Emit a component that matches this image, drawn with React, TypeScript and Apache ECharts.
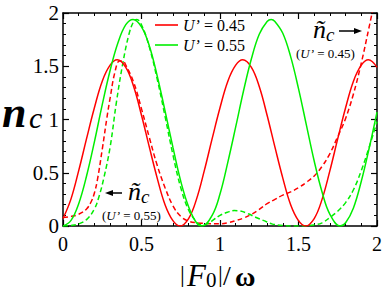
import React, { useEffect, useRef } from "react";
import * as echarts from "echarts";

// U' = 0.45, n_c (solid red)
const nc045: [number, number][] = [
  [0, 0.07], [0.05, 0.25], [0.1, 0.52], [0.15, 0.82], [0.2, 1.11], [0.25, 1.36], [0.3, 1.51], [0.345, 1.56],
  [0.4, 1.49], [0.45, 1.31], [0.5, 1.04], [0.55, 0.74], [0.6, 0.45], [0.65, 0.2], [0.7, 0.05], [0.745, 0],
  [0.8, 0.07], [0.85, 0.25], [0.9, 0.52], [0.95, 0.82], [1, 1.11], [1.05, 1.36], [1.1, 1.51], [1.145, 1.56],
  [1.2, 1.49], [1.25, 1.31], [1.3, 1.04], [1.35, 0.74], [1.4, 0.45], [1.45, 0.2], [1.5, 0.05], [1.545, 0],
  [1.6, 0.07], [1.65, 0.25], [1.7, 0.52], [1.75, 0.82], [1.8, 1.11], [1.85, 1.36], [1.9, 1.51], [1.945, 1.56],
  [2, 1.49],
];

// U' = 0.55, n_c (solid green)
const nc055: [number, number][] = [
  [0, 0], [0.05, 0.05], [0.1, 0.21], [0.15, 0.47], [0.2, 0.79], [0.25, 1.14], [0.3, 1.46], [0.35, 1.72],
  [0.4, 1.89], [0.446, 1.94], [0.5, 1.87], [0.55, 1.69], [0.6, 1.41], [0.65, 1.08], [0.7, 0.74], [0.75, 0.42],
  [0.8, 0.18], [0.85, 0.03], [0.886, 0], [0.95, 0.1], [1, 0.3], [1.05, 0.6], [1.1, 0.93], [1.15, 1.27],
  [1.2, 1.57], [1.25, 1.8], [1.3, 1.92], [1.326, 1.94], [1.35, 1.92], [1.4, 1.81], [1.45, 1.59], [1.5, 1.29],
  [1.55, 0.95], [1.6, 0.61], [1.65, 0.32], [1.7, 0.11], [1.766, 0], [1.8, 0.03], [1.85, 0.17], [1.9, 0.42],
  [1.95, 0.73], [2, 1.07],
];

// U' = 0.45, tilde n_c (dashed red)
const nct045: [number, number][] = [
  [0, 0.08], [0.05, 0.09], [0.1, 0.11], [0.15, 0.16], [0.18, 0.23], [0.2, 0.31], [0.22, 0.44], [0.25, 0.72],
  [0.28, 1.02], [0.3, 1.2], [0.33, 1.44], [0.36, 1.55], [0.38, 1.55], [0.4, 1.51], [0.45, 1.35], [0.5, 1.1],
  [0.55, 0.83], [0.6, 0.57], [0.65, 0.36], [0.7, 0.19], [0.75, 0.09], [0.8, 0.045], [0.85, 0.03], [0.9, 0.025],
  [1, 0.02], [1.05, 0.03], [1.1, 0.05], [1.15, 0.075], [1.2, 0.11], [1.25, 0.155], [1.3, 0.21], [1.35, 0.25],
  [1.4, 0.29], [1.45, 0.32], [1.5, 0.36], [1.55, 0.41], [1.6, 0.47], [1.65, 0.56], [1.7, 0.68], [1.75, 0.84],
  [1.8, 1.01], [1.85, 1.24], [1.9, 1.53], [1.95, 1.87], [1.98, 2.08],
];

// U' = 0.55, tilde n_c (dashed green)
const nct055: [number, number][] = [
  [0, 0], [0.05, 0.005], [0.1, 0.02], [0.15, 0.06], [0.2, 0.16], [0.23, 0.28], [0.26, 0.45], [0.3, 0.74],
  [0.34, 1.16], [0.38, 1.52], [0.42, 1.8], [0.45, 1.92], [0.47, 1.94], [0.5, 1.89], [0.55, 1.68], [0.6, 1.38],
  [0.65, 1.03], [0.7, 0.67], [0.75, 0.36], [0.8, 0.15], [0.85, 0.04], [0.88, 0.01], [0.92, 0.02], [0.96, 0.06],
  [1, 0.1], [1.05, 0.13], [1.09, 0.145], [1.13, 0.14], [1.18, 0.115], [1.23, 0.08], [1.28, 0.05], [1.33, 0.02],
  [1.4, 0.005], [1.5, 0], [1.6, 0.01], [1.65, 0.03], [1.7, 0.08], [1.75, 0.14], [1.8, 0.22], [1.85, 0.34],
  [1.9, 0.52], [1.95, 0.74], [2, 0.98],
];

const legendNames = ["U\u2019 = 0.45", "U\u2019 = 0.55"];
const dashedNames = ["\u00f1c (U\u2019 = 0.45)", "\u00f1c (U\u2019 = 0.55)"];

const RED = "#ff0000";
const GREEN = "#00ee00";
const FONT = "'Liberation Serif', 'Times New Roman', serif";

function makeAxis(position: string, showLabel: boolean, fontSize: number, margin: number) {
  return {
    type: "value",
    position,
    min: 0,
    max: 2,
    interval: 0.5,
    axisLine: { show: true, onZero: false, lineStyle: { color: "#000", width: 1.5 } },
    axisTick: { show: true, inside: true, length: 6, lineStyle: { color: "#000", width: 1.2 } },
    minorTick: { show: true, splitNumber: 5, length: 3, lineStyle: { color: "#000", width: 1 } },
    splitLine: { show: false },
    minorSplitLine: { show: false },
    axisLabel: { show: showLabel, fontFamily: FONT, fontSize, color: "#000", margin },
  };
}

function txt(text: string, x: number, y: number, size: number, italic: boolean, bold = false, lh?: number) {
  return {
    type: "text",
    x,
    y,
    style: {
      text,
      fontFamily: FONT,
      fontSize: size,
      fontStyle: italic ? "italic" : "normal",
      fontWeight: bold ? "bold" : "normal",
      fill: "#000",
      align: "left",
      verticalAlign: "middle",
      lineHeight: lh ?? size,
    },
  };
}

function note(label: string, x: number, y: number) {
  return {
    type: "text",
    x,
    y,
    style: {
      text: "{p|(}{i|U\u2019}{p| = " + label + ")}",
      align: "left",
      verticalAlign: "middle",
      rich: {
        p: { fontFamily: FONT, fontSize: 13, fill: "#000", lineHeight: 11 },
        i: { fontFamily: FONT, fontSize: 13, fontStyle: "italic", fill: "#000", lineHeight: 11 },
      },
    },
  };
}

export default function App() {
  const ref = useRef<HTMLDivElement>(null);
  useEffect(() => {
    const chart = echarts.init(ref.current!, null, { renderer: "svg" });
    const lineBase = { type: "line", symbol: "none", smooth: 0.4, xAxisIndex: 0, yAxisIndex: 0 };
    chart.setOption({
      animation: false,
      backgroundColor: "#fff",
      grid: { left: 63, top: 13, right: 9, bottom: 68, outerBoundsMode: "none" },
      xAxis: [makeAxis("bottom", true, 20, 8), makeAxis("top", false, 20, 8)],
      yAxis: [makeAxis("left", true, 21, 4), makeAxis("right", false, 21, 4)],
      legend: {
        data: legendNames,
        orient: "vertical",
        left: 155,
        top: 15,
        padding: 0,
        icon: "rect",
        itemWidth: 23,
        itemHeight: 1.6,
        itemGap: 0,
        textStyle: {
          fontFamily: FONT,
          fontSize: 16,
          lineHeight: 20,
          color: "#000",
          rich: {
            i: { fontFamily: FONT, fontSize: 16, lineHeight: 20, fontStyle: "italic", color: "#000" },
            r: { fontFamily: FONT, fontSize: 16, lineHeight: 20, color: "#000" },
          },
        },
        formatter: (name: string) => "{i|U\u2019}{r|" + name.slice(2) + "}",
      },
      series: [
        { ...lineBase, name: dashedNames[0], data: nct045, lineStyle: { color: RED, width: 1.5, type: [5, 3] }, itemStyle: { color: RED } },
        { ...lineBase, name: dashedNames[1], data: nct055, lineStyle: { color: GREEN, width: 1.5, type: [5, 3] }, itemStyle: { color: GREEN } },
        { ...lineBase, name: legendNames[0], data: nc045, lineStyle: { color: RED, width: 1.5 }, itemStyle: { color: RED } },
        { ...lineBase, name: legendNames[1], data: nc055, lineStyle: { color: GREEN, width: 1.5 }, itemStyle: { color: GREEN } },
      ],
      graphic: [
        // y-axis title n_c
        txt("n", 2, 112, 44, true, true),
        txt("c", 29, 117, 30, true),
        // x-axis title |F0|/ω
        txt("|", 180, 274, 24, false),
        txt("F", 187, 275, 31, true),
        txt("0", 206, 280, 21, false),
        txt("|", 218, 274, 24, false),
        txt("/", 223, 275, 28, false),
        txt("\u03c9", 235, 276, 28, false, true),
        // top-right annotation
        txt("\u00f1", 313, 29, 26, true, false, 18),
        txt("c", 326, 34, 19, true, false, 10),
        { type: "line", shape: { x1: 339, y1: 31, x2: 356, y2: 31 }, style: { stroke: "#000", lineWidth: 1.5 } },
        { type: "polygon", shape: { points: [[362, 31], [354, 28], [354, 34]] }, style: { fill: "#000" } },
        note("0.45", 296, 53),
        // lower-left annotation
        txt("\u00f1", 128, 191, 26, true, false, 18),
        txt("c", 141, 196, 19, true, false, 10),
        { type: "line", shape: { x1: 122, y1: 193, x2: 111, y2: 193 }, style: { stroke: "#000", lineWidth: 1.5 } },
        { type: "polygon", shape: { points: [[105, 193], [113, 190], [113, 196]] }, style: { fill: "#000" } },
        note("0.55", 102, 215),
      ],
    });
    return () => chart.dispose();
  }, []);
  return <div ref={ref} style={{ position: "fixed", left: 0, top: 0, width: 386, height: 294 }} />;
}
